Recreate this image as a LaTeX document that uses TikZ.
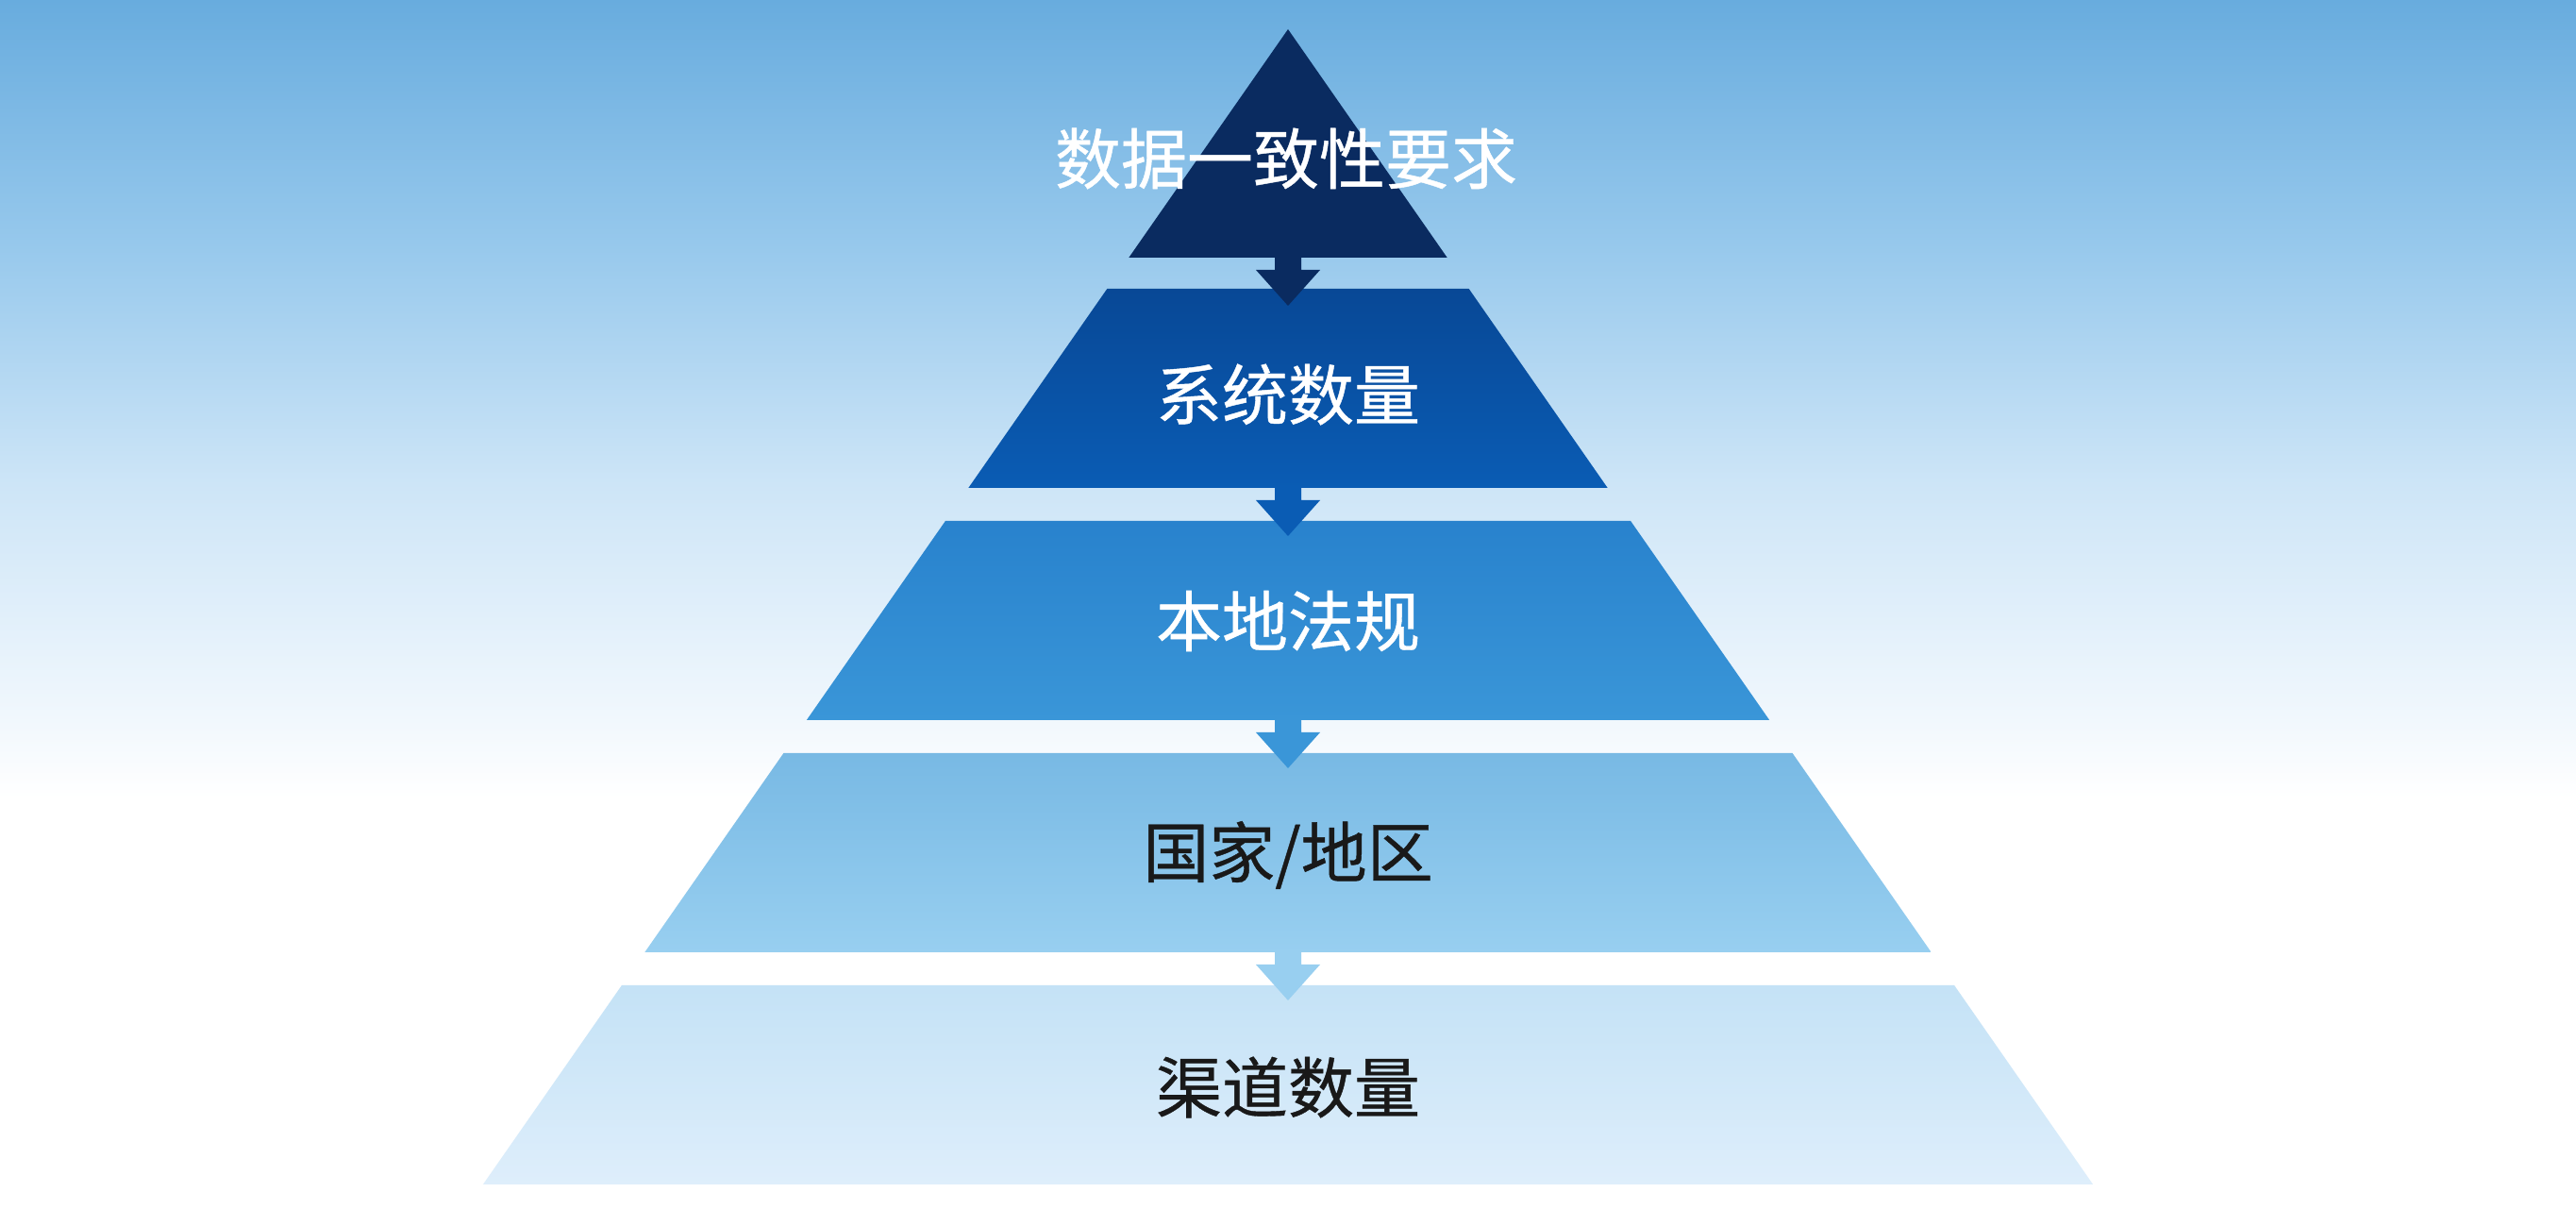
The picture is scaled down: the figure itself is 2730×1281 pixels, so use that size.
\documentclass[tikz,border=0pt]{standalone}
\usepackage{fontspec}
\newfontfamily\cjk[FakeBold=0.6]{Noto Sans CJK SC}
\definecolor{bgA}{RGB}{104,172,222}
\definecolor{bgB}{RGB}{150,200,236}
\definecolor{bgC}{RGB}{205,229,247}
\definecolor{bgD}{RGB}{242,248,253}
\definecolor{lA}{RGB}{10,43,96}
\definecolor{lBt}{RGB}{8,72,150}
\definecolor{lBb}{RGB}{10,92,180}
\definecolor{lCt}{RGB}{40,130,205}
\definecolor{lCb}{RGB}{58,150,216}
\definecolor{lDt}{RGB}{120,185,228}
\definecolor{lDb}{RGB}{152,207,240}
\definecolor{lEt}{RGB}{196,226,246}
\definecolor{lEb}{RGB}{222,238,251}
\pgfdeclareverticalshading{bgshade}{100bp}{color(0bp)=(white); color(25bp)=(white); color(42bp)=(white); color(45bp)=(bgD); color(55bp)=(bgC); color(65bp)=(bgB); color(75bp)=(bgA); color(100bp)=(bgA)}
\tikzset{
  lbl/.style={font=\cjk\fontsize{70}{84}\selectfont, inner sep=0pt, anchor=center},
}
\begin{document}
\begin{tikzpicture}[x=1pt,y=1pt]
\useasboundingbox (0,0) rectangle (2730,1281);
\shade[shading=bgshade] (0,0) rectangle (2730,1281);
% layers
\fill[lA] (1365,1250) -- (1533.7,1008) -- (1196.3,1008) -- cycle;
\shade[top color=lBt, bottom color=lBb] (1173.3,975) -- (1556.7,975) -- (1703.7,764) -- (1026.3,764) -- cycle;
\shade[top color=lCt, bottom color=lCb] (1001.9,729) -- (1728.1,729) -- (1875.2,518) -- (854.8,518) -- cycle;
\shade[top color=lDt, bottom color=lDb] (830.4,483) -- (1899.6,483) -- (2046.7,272) -- (683.3,272) -- cycle;
\shade[top color=lEt, bottom color=lEb] (658.9,237) -- (2071.1,237) -- (2218.1,26) -- (511.9,26) -- cycle;
% arrow anchors
\coordinate (a1) at (1365,1010);
\coordinate (a2) at (1365,766);
\coordinate (a3) at (1365,520);
\coordinate (a4) at (1365,274);
\foreach \c/\col in {a1/lA, a2/lBb, a3/lCb, a4/lDb}{
  \fill[\col, shift={(\c)}] (-14,0) -- (14,0) -- (14,-15) -- (34,-15) -- (0,-53) -- (-34,-15) -- (-14,-15) -- cycle;
}
% labels
\node[lbl, text=white] (t1) at (1363,1113) {数据一致性要求};
\node[lbl, text=white] (t2) at (1365,863) {系统数量};
\node[lbl, text=white] (t3) at (1365,623) {本地法规};
\node[lbl, text=black!90] (t4) at (1365,375) {国家/地区};
\node[lbl, text=black!90] (t5) at (1365,129) {渠道数量};
\end{tikzpicture}
\end{document}
